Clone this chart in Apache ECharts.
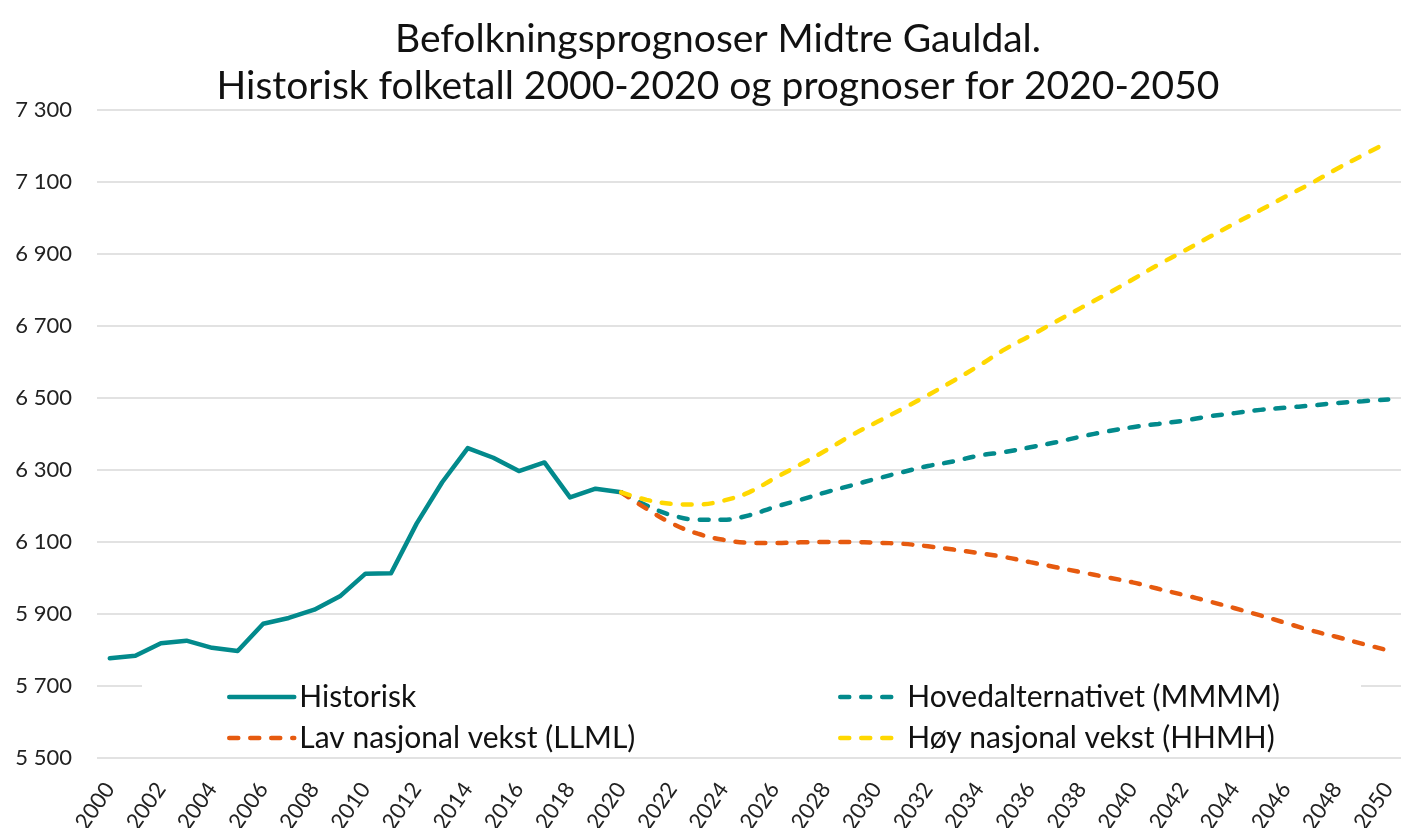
<!DOCTYPE html>
<html>
<head>
<meta charset="utf-8">
<script src="https://cdn.jsdelivr.net/npm/echarts@6/dist/echarts.min.js"></script>
<style>html,body{margin:0;padding:0;background:#fff}#c{width:1403px;height:828px}</style>
</head>
<body>
<div id="c"></div>
<script>
var years = [];
for (var y = 2000; y <= 2050; y++) years.push(String(y));

var historisk = [5777,5784,5819,5826,5806,5797,5873,5889,5912,5949,6012,6013,6151,6266,6361,6334,6297,6321,6224,6248,6238];
var hoved = [6238,6201,6174,6162,6162,6174,6197,6217,6238,6257,6276,6294,6311,6324,6340,6350,6363,6377,6393,6407,6419,6428,6437,6449,6458,6467,6473,6479,6486,6491,6496];
var lav = [6238,6192,6151,6123,6106,6098,6097,6099,6100,6100,6098,6095,6088,6079,6069,6058,6044,6030,6016,6002,5988,5970,5953,5935,5916,5896,5875,5854,5836,5817,5799];
var hoy = [6238,6217,6206,6204,6215,6238,6277,6315,6354,6396,6433,6470,6508,6548,6590,6635,6673,6712,6751,6789,6829,6870,6908,6947,6985,7022,7060,7097,7137,7174,7211];

var names = ['Historisk','Hovedalternativet (MMMM)','Lav nasjonal vekst (LLML)','Høy nasjonal vekst (HHMH)'];
var titleLines = ['Befolkningsprognoser Midtre Gauldal.','Historisk folketall 2000-2020 og prognoser for 2020-2050'];

function pad(arr, before, total) {
  var out = [];
  for (var i = 0; i < before; i++) out.push(null);
  for (var j = 0; j < arr.length; j++) out.push(arr[j]);
  while (out.length < total) out.push(null);
  return out;
}
var N = years.length;
var FONT = 'Lato';
var dash = [9, 12];
var legendCommon = {
  orient: 'vertical', top: 677, itemHeight: 14, itemGap: 11,
  itemStyle: {opacity: 0},
  lineStyle: {width: 4.5, cap: 'round'},
  textStyle: {fontFamily: FONT, fontSize: 30, color: '#111', lineHeight: 30}
};

var chart = echarts.init(document.getElementById('c'), null, {renderer: 'canvas'});
chart.setOption({
  animation: false,
  backgroundColor: '#fff',
  title: {
    text: titleLines.join('\n'),
    left: 713, top: 11, textAlign: 'center',
    textStyle: {fontFamily: FONT, fontSize: 39, fontWeight: 'normal', color: '#111', lineHeight: 47}
  },
  grid: {left: 97, right: 2, top: 110, bottom: 70, containLabel: false, outerBoundsMode: 'none'},
  graphic: [{
    type: 'rect', z: 1,
    shape: {x: 142, y: 667, width: 1219, height: 84},
    style: {fill: '#fff'}
  }],
  legend: [
    Object.assign({}, legendCommon, {left: 222, itemWidth: 65, data: [names[0], names[2]]}),
    Object.assign({}, legendCommon, {left: 833, itemWidth: 62, data: [names[1], names[3]]})
  ],
  xAxis: {
    type: 'category', data: years, boundaryGap: true,
    axisLine: {show: false}, axisTick: {show: false},
    axisLabel: {interval: 1, rotate: 55, fontFamily: FONT, fontSize: 22, color: '#222', margin: 27, hideOverlap: false},
    splitLine: {show: false}
  },
  yAxis: {
    type: 'value', min: 5500, max: 7300, interval: 200,
    axisLine: {show: false}, axisTick: {show: false},
    axisLabel: {fontFamily: FONT, fontSize: 22, color: '#222', margin: 25,
      formatter: function (v) { return String(v).replace(/\B(?=(\d{3})+(?!\d))/g, ' '); }},
    splitLine: {show: true, lineStyle: {color: '#d9d9d9', width: 1.5}}
  },
  series: [{
    name: names[0], type: 'line', data: pad(historisk, 0, N), showSymbol: false, symbol: 'none',
    lineStyle: {color: '#028A8C', width: 4.5, cap: 'round', join: 'round'}, itemStyle: {color: '#028A8C'}, z: 3
  }, {
    name: names[1], type: 'line', data: pad(hoved, 20, N), showSymbol: false, symbol: 'none', smooth: 0.4,
    lineStyle: {color: '#028A8C', width: 4.5, type: dash, cap: 'round'}, itemStyle: {color: '#028A8C'}, z: 4
  }, {
    name: names[2], type: 'line', data: pad(lav, 20, N), showSymbol: false, symbol: 'none', smooth: 0.4,
    lineStyle: {color: '#E65A0F', width: 4.5, type: dash, cap: 'round'}, itemStyle: {color: '#E65A0F'}, z: 5
  }, {
    name: names[3], type: 'line', data: pad(hoy, 20, N), showSymbol: false, symbol: 'none', smooth: 0.4,
    lineStyle: {color: '#FFD800', width: 4.5, type: dash, cap: 'round'}, itemStyle: {color: '#FFD800'}, z: 6
  }]
});
</script>
</body>
</html>
